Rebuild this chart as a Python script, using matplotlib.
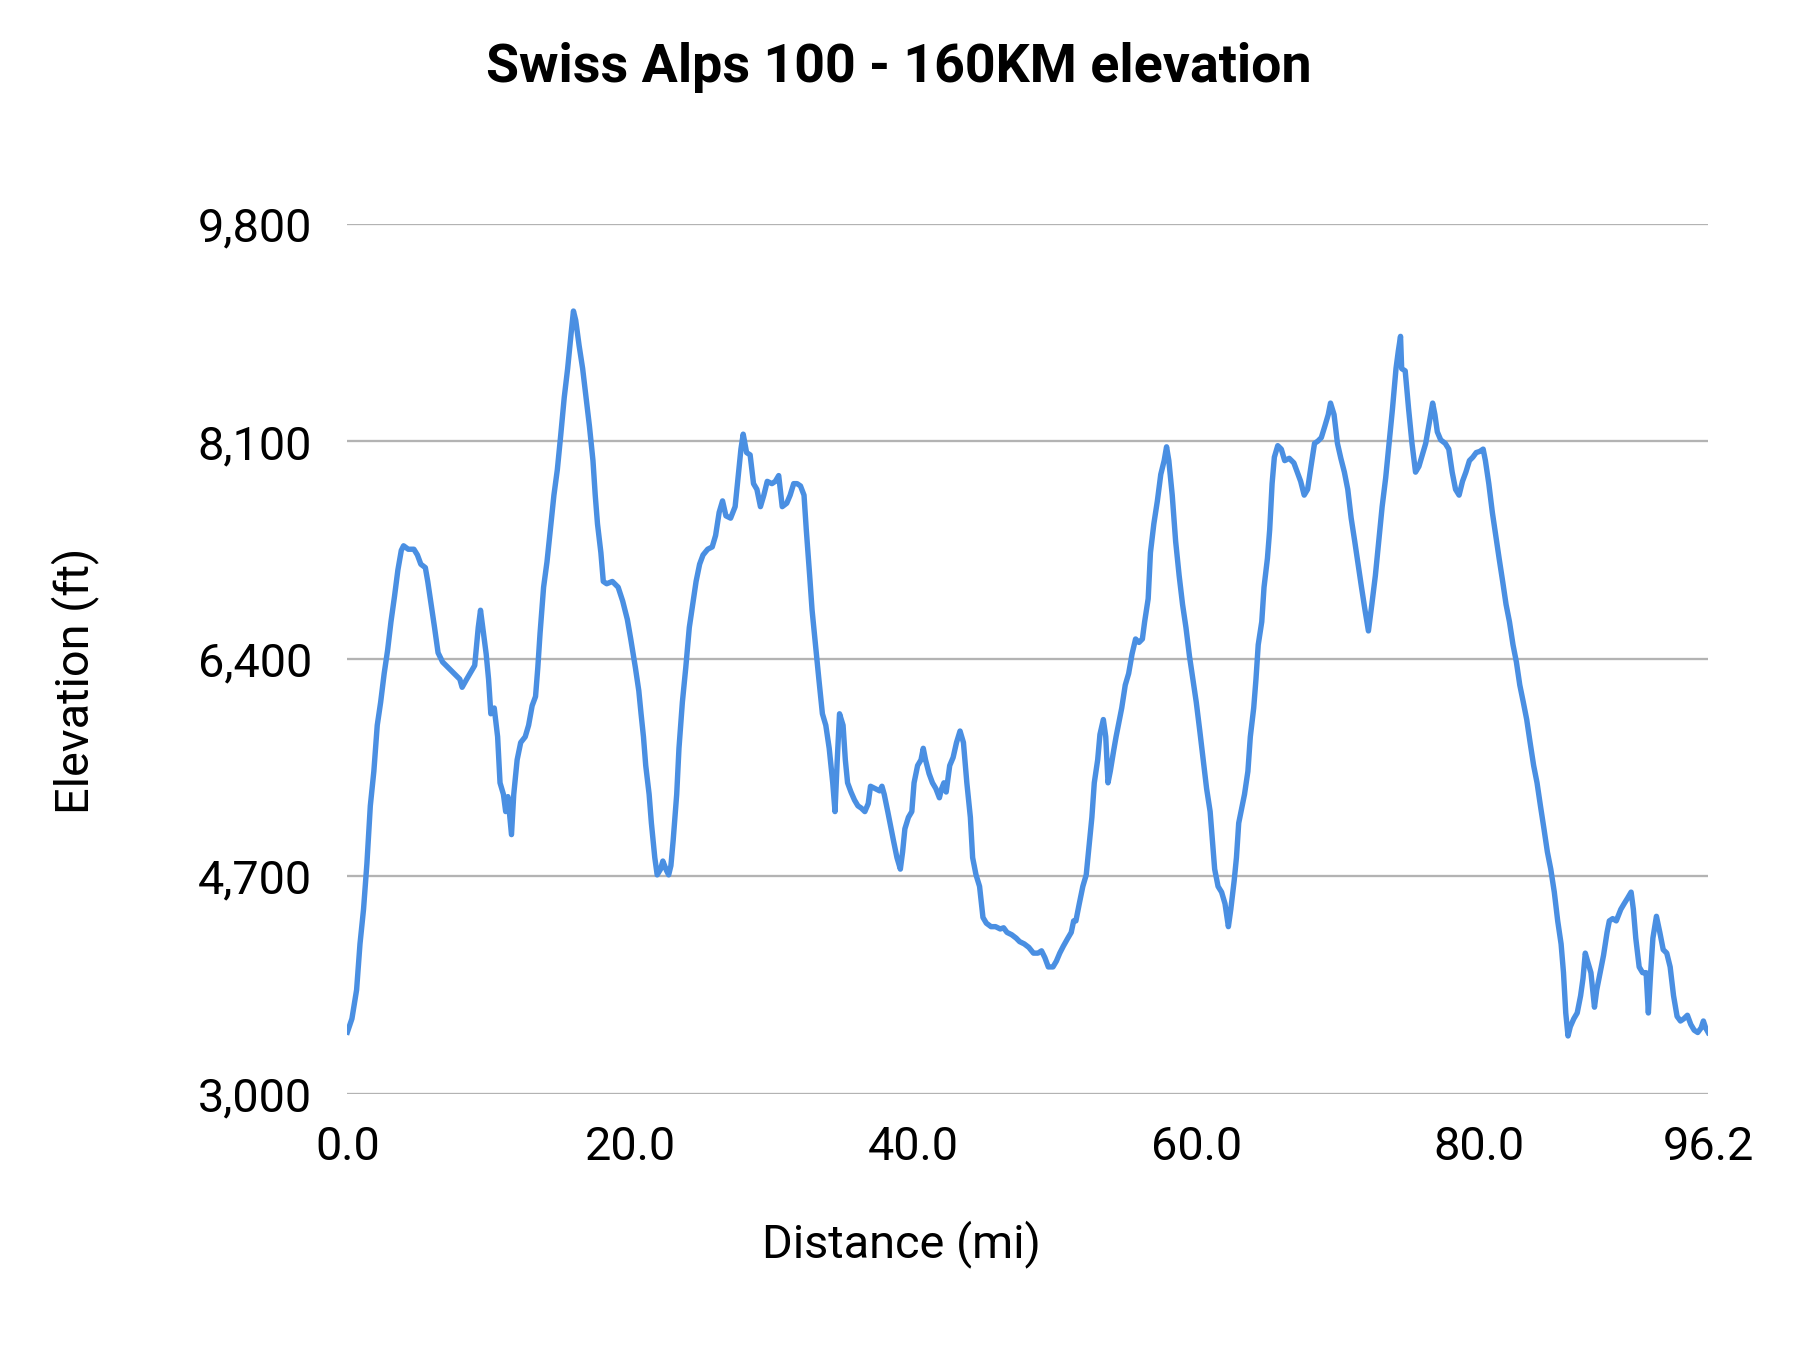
import matplotlib
matplotlib.use("Agg")
import matplotlib.pyplot as plt
from matplotlib.ticker import FuncFormatter

plt.rcParams["font.family"] = ["Roboto", "DejaVu Sans"]

# distance along the course (mi) and elevation (ft)
distance_mi = [
    0.00, 0.32, 0.65, 0.89, 1.14, 1.38, 1.62, 1.87, 2.11, 2.35, 2.60, 2.84, 3.08, 3.33, 3.57, 3.81,
    3.97, 4.30, 4.70, 4.95, 5.19, 5.51, 5.68, 5.92, 6.16, 6.41, 6.73, 7.14, 7.54, 7.95, 8.11, 8.43,
    8.76, 9.00, 9.25, 9.41, 9.57, 9.81, 9.98, 10.14, 10.38, 10.62, 10.79, 11.03, 11.19, 11.35, 11.60, 11.76,
    12.00, 12.25, 12.57, 12.81, 13.06, 13.30, 13.46, 13.62, 13.87, 14.11, 14.35, 14.60, 14.84, 15.08, 15.33, 15.57,
    15.81, 15.98, 16.14, 16.38, 16.63, 16.87, 17.11, 17.36, 17.52, 17.68, 17.92, 18.09, 18.33, 18.73, 19.14, 19.46,
    19.79, 20.03, 20.36, 20.60, 20.76, 20.93, 21.09, 21.33, 21.49, 21.73, 21.90, 22.14, 22.30, 22.55, 22.71, 22.87,
    23.03, 23.28, 23.44, 23.68, 23.92, 24.17, 24.41, 24.65, 24.90, 25.14, 25.47, 25.79, 26.03, 26.28, 26.52, 26.76,
    27.09, 27.41, 27.66, 27.82, 27.98, 28.22, 28.47, 28.71, 28.95, 29.20, 29.44, 29.68, 30.01, 30.25, 30.49, 30.74,
    31.06, 31.30, 31.55, 31.79, 32.03, 32.28, 32.44, 32.68, 32.85, 33.09, 33.33, 33.58, 33.82, 34.06, 34.31, 34.47,
    34.63, 34.79, 35.04, 35.20, 35.36, 35.60, 35.85, 36.09, 36.33, 36.58, 36.82, 36.98, 37.31, 37.63, 37.79, 37.95,
    38.20, 38.44, 38.60, 38.85, 39.09, 39.25, 39.41, 39.66, 39.90, 40.06, 40.31, 40.55, 40.71, 40.87, 41.12, 41.36,
    41.60, 41.85, 42.01, 42.17, 42.33, 42.58, 42.82, 43.06, 43.31, 43.55, 43.79, 44.04, 44.20, 44.44, 44.69, 44.93,
    45.17, 45.50, 45.82, 46.15, 46.39, 46.63, 46.96, 47.28, 47.52, 47.85, 48.17, 48.50, 48.82, 49.07, 49.31, 49.55,
    49.88, 50.12, 50.36, 50.61, 50.93, 51.17, 51.34, 51.50, 51.74, 51.99, 52.23, 52.39, 52.63, 52.80, 53.04, 53.20,
    53.44, 53.61, 53.77, 53.93, 54.17, 54.34, 54.58, 54.74, 54.99, 55.23, 55.47, 55.72, 55.96, 56.20, 56.36, 56.61,
    56.77, 57.01, 57.26, 57.50, 57.74, 57.91, 58.07, 58.31, 58.55, 58.80, 59.04, 59.28, 59.53, 59.77, 60.01, 60.26,
    60.50, 60.74, 60.99, 61.15, 61.31, 61.55, 61.80, 62.04, 62.28, 62.45, 62.69, 62.85, 63.01, 63.26, 63.42, 63.66,
    63.83, 64.07, 64.23, 64.39, 64.64, 64.80, 65.04, 65.20, 65.37, 65.53, 65.77, 66.02, 66.26, 66.58, 66.91, 67.15,
    67.39, 67.64, 67.88, 68.12, 68.37, 68.61, 68.85, 69.10, 69.34, 69.50, 69.75, 69.99, 70.23, 70.48, 70.72, 70.96,
    71.21, 71.45, 71.69, 71.94, 72.18, 72.42, 72.67, 72.91, 73.15, 73.40, 73.64, 73.88, 74.13, 74.29, 74.45, 74.53,
    74.78, 75.02, 75.26, 75.51, 75.75, 75.99, 76.23, 76.48, 76.72, 76.88, 77.05, 77.29, 77.61, 77.86, 78.10, 78.34,
    78.59, 78.83, 79.07, 79.32, 79.56, 79.80, 80.05, 80.29, 80.45, 80.69, 80.94, 81.18, 81.42, 81.67, 81.91, 82.15,
    82.40, 82.64, 82.88, 83.13, 83.37, 83.61, 83.86, 84.10, 84.34, 84.59, 84.83, 85.07, 85.32, 85.56, 85.80, 85.97,
    86.13, 86.29, 86.45, 86.70, 86.94, 87.18, 87.35, 87.51, 87.67, 87.91, 88.16, 88.32, 88.56, 88.80, 89.05, 89.21,
    89.45, 89.70, 89.86, 90.02, 90.26, 90.51, 90.75, 90.91, 91.08, 91.32, 91.56, 91.81, 91.97, 92.13, 92.29, 92.54,
    92.78, 93.02, 93.27, 93.51, 93.75, 94.00, 94.24, 94.48, 94.73, 94.97, 95.21, 95.46, 95.70, 95.86, 96.02, 96.20,
]

elevation_ft = [
    3480, 3585, 3810, 4170, 4440, 4800, 5250, 5520, 5880, 6060, 6285, 6465, 6690, 6888, 7095, 7248,
    7284, 7257, 7257, 7212, 7140, 7113, 7005, 6825, 6645, 6447, 6375, 6330, 6285, 6240, 6177, 6240,
    6303, 6348, 6645, 6780, 6645, 6438, 6240, 5970, 6015, 5790, 5430, 5340, 5205, 5322, 5025, 5340,
    5610, 5745, 5790, 5880, 6033, 6105, 6330, 6600, 6960, 7158, 7410, 7680, 7878, 8148, 8445, 8670,
    8940, 9120, 9048, 8850, 8670, 8445, 8220, 7950, 7680, 7455, 7230, 7005, 6987, 7005, 6960, 6852,
    6708, 6555, 6330, 6150, 5970, 5790, 5565, 5340, 5115, 4845, 4710, 4755, 4818, 4746, 4710, 4782,
    4980, 5340, 5700, 6060, 6330, 6645, 6825, 7005, 7140, 7212, 7257, 7275, 7365, 7545, 7635, 7518,
    7500, 7590, 7860, 8040, 8157, 8013, 7995, 7770, 7725, 7590, 7680, 7788, 7770, 7788, 7833, 7590,
    7617, 7680, 7770, 7770, 7752, 7680, 7410, 7050, 6780, 6510, 6240, 5970, 5880, 5700, 5430, 5205,
    5610, 5970, 5880, 5610, 5430, 5358, 5295, 5250, 5232, 5205, 5268, 5403, 5385, 5367, 5403, 5340,
    5205, 5070, 4980, 4845, 4755, 4890, 5070, 5160, 5205, 5430, 5565, 5610, 5700, 5610, 5502, 5430,
    5385, 5313, 5385, 5430, 5358, 5565, 5628, 5745, 5835, 5745, 5430, 5160, 4845, 4710, 4620, 4377,
    4332, 4305, 4305, 4287, 4296, 4260, 4242, 4215, 4188, 4170, 4143, 4098, 4098, 4116, 4062, 3990,
    3990, 4035, 4098, 4152, 4215, 4260, 4350, 4350, 4485, 4620, 4710, 4890, 5160, 5430, 5610, 5808,
    5925, 5790, 5430, 5520, 5682, 5790, 5925, 6015, 6195, 6285, 6438, 6555, 6528, 6555, 6690, 6870,
    7230, 7455, 7635, 7842, 7950, 8058, 7950, 7680, 7320, 7050, 6825, 6645, 6420, 6240, 6060, 5835,
    5610, 5385, 5205, 4980, 4755, 4620, 4575, 4485, 4305, 4440, 4665, 4845, 5115, 5250, 5340, 5520,
    5790, 6015, 6240, 6510, 6690, 6960, 7185, 7410, 7770, 7977, 8067, 8040, 7950, 7968, 7932, 7860,
    7788, 7680, 7725, 7905, 8085, 8103, 8130, 8220, 8310, 8400, 8310, 8085, 7968, 7860, 7725, 7500,
    7320, 7140, 6960, 6780, 6618, 6825, 7050, 7320, 7590, 7815, 8085, 8355, 8670, 8805, 8922, 8670,
    8652, 8355, 8085, 7860, 7905, 7995, 8085, 8247, 8400, 8310, 8175, 8112, 8085, 8040, 7860, 7725,
    7680, 7788, 7860, 7950, 7977, 8013, 8022, 8040, 7950, 7770, 7545, 7365, 7185, 7005, 6825, 6690,
    6510, 6375, 6195, 6060, 5925, 5745, 5565, 5430, 5250, 5070, 4890, 4755, 4575, 4350, 4170, 3945,
    3630, 3450, 3522, 3585, 3630, 3765, 3900, 4098, 4035, 3945, 3675, 3810, 3945, 4080, 4260, 4350,
    4368, 4350, 4395, 4440, 4485, 4530, 4575, 4440, 4215, 3990, 3945, 3945, 3630, 3945, 4215, 4386,
    4260, 4125, 4098, 3990, 3765, 3603, 3567, 3585, 3612, 3540, 3495, 3477, 3513, 3567, 3513, 3477,
]

x_ticks = [0, 20, 40, 60, 80, 96.2]
y_ticks = [3000, 4700, 6400, 8100, 9800]

fig = plt.figure(figsize=(12, 9), dpi=150)
ax = fig.add_axes([0.193, 0.190, 0.756, 0.644])

ax.plot(distance_mi, elevation_ft, color="#4a8fe2", linewidth=2.6, solid_joinstyle="round")

ax.set_xlim(0, 96.2)
ax.set_ylim(3000, 9800)
ax.set_xticks(x_ticks)
ax.set_yticks(y_ticks)
ax.xaxis.set_major_formatter(FuncFormatter(lambda v, p: f"{v:.1f}"))
ax.yaxis.set_major_formatter(FuncFormatter(lambda v, p: f"{v:,.0f}"))
ax.tick_params(axis="both", length=0, labelsize=22.5, colors="#000000")
ax.tick_params(axis="y", pad=17)
ax.tick_params(axis="x", pad=15)

ax.grid(axis="y", color="#b3b3b3", linewidth=1.1)
ax.set_axisbelow(True)
for s in ax.spines.values():
    s.set_visible(False)

# axis titles sit centred on the figure, not on the plot area
fig.text(0.5007, 0.0786, "Distance (mi)", ha="center", va="center", fontsize=22.5)
fig.text(0.0417, 0.496, "Elevation (ft)", ha="center", va="center", fontsize=22.5,
         rotation=90)

fig.text(0.4995, 0.950, "Swiss Alps 100 - 160KM elevation", ha="center", va="center",
         fontsize=25.8, fontweight="bold")

fig.savefig("out.png", dpi=150)
